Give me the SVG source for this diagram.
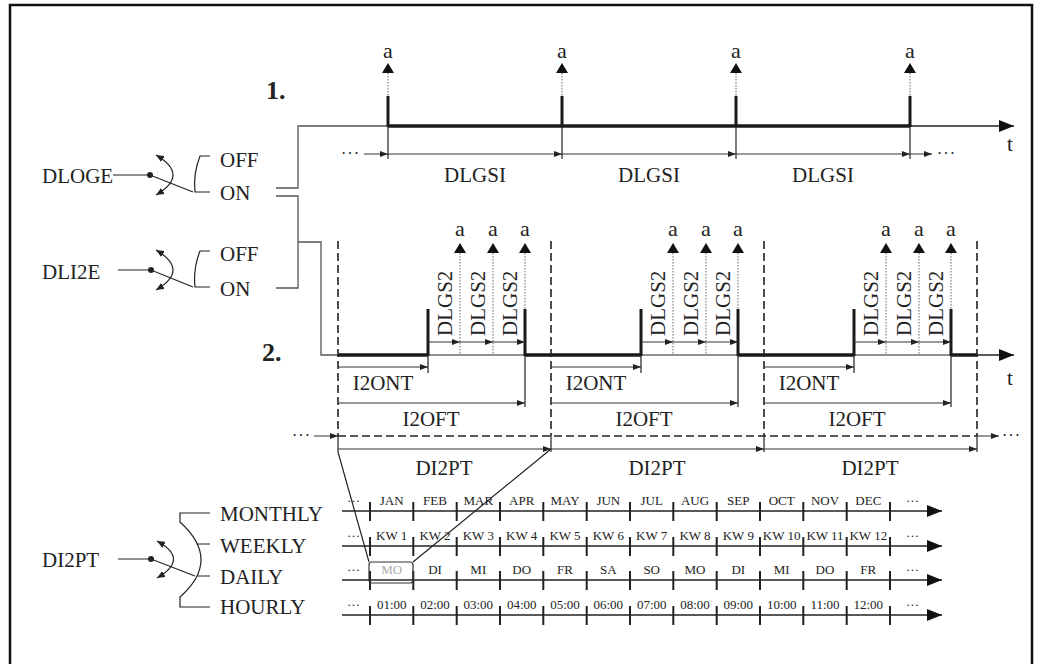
<svg xmlns="http://www.w3.org/2000/svg" xmlns:xlink="http://www.w3.org/1999/xlink" width="1037" height="664" viewBox="0 0 1037 664">
<defs>
<style>
text{font-family:"Liberation Serif","Times New Roman",serif;fill:#222}
.lbl{font-size:21px}
.mid{text-anchor:middle}
.small{font-size:13px;text-anchor:middle}
.dots{font-size:16px;letter-spacing:1px}
.sdots{font-size:13px}
.a{font-size:22px;text-anchor:middle}
.bold{font-weight:bold;font-size:26px}
.thin{stroke:#222;stroke-width:1.2;fill:none}
.thick{stroke:#1a1a1a;stroke-width:3.5;fill:none}
.tv{stroke:#1a1a1a;stroke-width:3;fill:none}
.conn{stroke:#555;stroke-width:1.3;fill:none}
.dash{stroke:#222;stroke-width:1.6;stroke-dasharray:8 4;fill:none}
.dot{stroke:#666;stroke-width:1;stroke-dasharray:1.5 1.5;fill:none}
.dim{stroke:#333;stroke-width:1;fill:none;marker-end:url(#ah)}
.axis{stroke:#222;stroke-width:1.4;fill:none;marker-end:url(#big)}
.tick{stroke:#222;stroke-width:2;fill:none}
</style>
<marker id="ah" markerUnits="userSpaceOnUse" markerWidth="8" markerHeight="6" refX="8" refY="3" orient="auto"><path d="M0,0 L8,3 L0,6 z" fill="#222"/></marker>
<marker id="big" markerUnits="userSpaceOnUse" markerWidth="15" markerHeight="12" refX="15" refY="6" orient="auto"><path d="M0,0 L15,6 L0,12 z" fill="#111"/></marker>
<marker id="sa" markerUnits="userSpaceOnUse" markerWidth="8" markerHeight="7" refX="8" refY="3.5" orient="auto-start-reverse"><path d="M0,0 L8,3.5 L0,7 z" fill="#222"/></marker>
<path id="tri" d="M0,0 L6,10 L-6,10 z" fill="#111"/>
<g id="rowbase">
<path class="axis" d="M342,0 H942"/>
<path class="tick" d="M370,-9 V10 M413.3,-9 V10 M456.7,-9 V10 M500,-9 V10 M543.3,-9 V10 M586.7,-9 V10 M630,-9 V10 M673.3,-9 V10 M716.7,-9 V10 M760,-9 V10 M803.3,-9 V10 M846.7,-9 V10 M890,-9 V10"/>
<text class="sdots" x="347" y="-6">···</text>
<text class="sdots" x="906" y="-6">···</text>
</g>
</defs>
<rect x="0" y="0" width="1037" height="664" fill="#fff"/>
<rect x="10" y="5" width="1022" height="680" fill="none" stroke="#111" stroke-width="2.5"/>

<text class="bold" x="266" y="99">1.</text>
<text class="bold" x="262" y="361">2.</text>

<g id="sw-dloge">
<text class="lbl" x="42" y="183">DLOGE</text>
<path class="thin" d="M113,175 H150 L193,192"/>
<circle cx="150" cy="175" r="3" fill="#222"/>
<path class="thin" d="M156,155 Q190,175 156,195" marker-start="url(#sa)" marker-end="url(#sa)"/>
<path class="thin" d="M210,156 H200 Q193,174 195,192 H210"/>
<text class="lbl" x="220" y="167">OFF</text>
<text class="lbl" x="220" y="200">ON</text>
</g>

<g id="sw-dli2e">
<text class="lbl" x="42" y="279">DLI2E</text>
<path class="thin" d="M118,270 H151 L193,287"/>
<circle cx="151" cy="270" r="3" fill="#222"/>
<path class="thin" d="M156,250 Q190,270 156,290" marker-start="url(#sa)" marker-end="url(#sa)"/>
<path class="thin" d="M210,251 H200 Q193,269 195,287 H210"/>
<text class="lbl" x="220" y="261">OFF</text>
<text class="lbl" x="220" y="296">ON</text>
</g>

<g id="sw-di2pt">
<text class="lbl" x="42" y="567">DI2PT</text>
<path class="thin" d="M118,559 H151 L195,576"/>
<circle cx="151" cy="559" r="3" fill="#222"/>
<path class="thin" d="M157,541 Q190,559 157,578" marker-start="url(#sa)" marker-end="url(#sa)"/>
<path class="thin" d="M210,513 H180 V522 Q222,560 180,597 V607 H210 M197.6,544 H210 M197,576 H210"/>
<text class="lbl" x="220" y="521">MONTHLY</text>
<text class="lbl" x="220" y="553">WEEKLY</text>
<text class="lbl" x="220" y="584">DAILY</text>
<text class="lbl" x="220" y="614">HOURLY</text>
</g>

<g id="connectors">
<path class="conn" d="M276,188 H298 V126 H388"/>
<path class="conn" d="M276,196 H298 V288 H276"/>
<path class="conn" d="M298,242 H321 V355 H338"/>
<path class="thin" d="M338,452 L369,562 M551,449 L413,562"/>
</g>

<g id="timeline1">
<path class="thick" d="M388,126 H910"/>
<path class="axis" d="M910,126 H1014"/>
<text class="lbl" x="1007" y="151">t</text>
<g id="t1-marks">
<path class="dot" d="M388,73 V96 M562,73 V96 M736,73 V96 M910,73 V96"/>
<path class="tv" d="M388,96 V127 M562,96 V127 M736,96 V127 M910,96 V127"/>
<path class="thin" d="M388,126 V159 M562,126 V159 M736,126 V159 M910,126 V159"/>
<use xlink:href="#tri" x="388" y="63"/>
<use xlink:href="#tri" x="562" y="63"/>
<use xlink:href="#tri" x="736" y="63"/>
<use xlink:href="#tri" x="910" y="63"/>
<text class="a" x="388" y="58">a</text>
<text class="a" x="562" y="58">a</text>
<text class="a" x="736" y="58">a</text>
<text class="a" x="910" y="58">a</text>
</g>
<text class="dots" x="341" y="159">···</text>
<path class="dim" d="M364,154 H388"/>
<path class="dim" d="M388,154 H562"/>
<path class="dim" d="M562,154 H736"/>
<path class="dim" d="M736,154 H910"/>
<path class="dim" d="M910,154 H932"/>
<text class="dots" x="937" y="159">···</text>
<text class="lbl mid" x="475" y="182">DLGSI</text>
<text class="lbl mid" x="649" y="182">DLGSI</text>
<text class="lbl mid" x="823" y="182">DLGSI</text>
</g>

<g id="timeline2">
<path class="thick" d="M338,355 H428 M525,355 H641 M738,355 H854 M951,355 H977"/>
<path class="thin" d="M428,355 H525 M641,355 H738 M854,355 H951"/>
<path class="axis" d="M977,355 H1014"/>
<text class="lbl" x="1007" y="385">t</text>
<path class="dash" d="M338,436 H977"/>
<text class="dots" x="292" y="441">···</text>
<path class="dim" d="M314,436 H338"/>
<path class="dim" d="M977,436 H999"/>
<text class="dots" x="1002" y="441">···</text>
<path class="dash" d="M977,241 V436"/>
<path class="thin" d="M977,436 V452"/>
</g>

<g id="cycle1">
<path class="dash" d="M338,241 V436"/>
<path class="thin" d="M338,436 V452"/>
<path class="tv" d="M428,309 V356 M525,309 V356"/>
<path class="thin" d="M428,355 V373 M525,355 V407"/>
<path class="dot" d="M460,253 V355 M493,253 V355 M525,253 V309"/>
<use xlink:href="#tri" x="460" y="243"/>
<use xlink:href="#tri" x="493" y="243"/>
<use xlink:href="#tri" x="525" y="243"/>
<text class="a" x="460" y="236">a</text>
<text class="a" x="493" y="236">a</text>
<text class="a" x="525" y="236">a</text>
<path class="dim" d="M428,342 H460"/>
<path class="dim" d="M460,342 H493"/>
<path class="dim" d="M493,342 H525"/>
<text class="lbl" transform="translate(452,336) rotate(-90)">DLGS2</text>
<text class="lbl" transform="translate(485,336) rotate(-90)">DLGS2</text>
<text class="lbl" transform="translate(517,336) rotate(-90)">DLGS2</text>
<path class="dim" d="M338,367 H428"/>
<text class="lbl mid" x="383" y="390">I2ONT</text>
<path class="dim" d="M338,403 H525"/>
<text class="lbl mid" x="431" y="426">I2OFT</text>
<path class="dim" d="M338,449 H551"/>
<text class="lbl mid" x="444" y="475">DI2PT</text>
</g>
<use id="cycle2" xlink:href="#cycle1" x="213"/>
<use id="cycle3" xlink:href="#cycle1" x="426"/>

<g id="calendar">
<use xlink:href="#rowbase" y="511"/>
<use xlink:href="#rowbase" y="546"/>
<use xlink:href="#rowbase" y="580"/>
<use xlink:href="#rowbase" y="615"/>
<rect x="369" y="562" width="44" height="21" rx="3" fill="none" stroke="#333" stroke-width="1.2"/>
<g id="row-month">
<text class="small" x="391.7" y="505">JAN</text><text class="small" x="435" y="505">FEB</text><text class="small" x="478.3" y="505">MAR</text><text class="small" x="521.7" y="505">APR</text><text class="small" x="565" y="505">MAY</text><text class="small" x="608.3" y="505">JUN</text><text class="small" x="651.7" y="505">JUL</text><text class="small" x="695" y="505">AUG</text><text class="small" x="738.3" y="505">SEP</text><text class="small" x="781.7" y="505">OCT</text><text class="small" x="825" y="505">NOV</text><text class="small" x="868.3" y="505">DEC</text>
</g>
<g id="row-week">
<text class="small" x="391.7" y="540">KW 1</text><text class="small" x="435" y="540">KW 2</text><text class="small" x="478.3" y="540">KW 3</text><text class="small" x="521.7" y="540">KW 4</text><text class="small" x="565" y="540">KW 5</text><text class="small" x="608.3" y="540">KW 6</text><text class="small" x="651.7" y="540">KW 7</text><text class="small" x="695" y="540">KW 8</text><text class="small" x="738.3" y="540">KW 9</text><text class="small" x="781.7" y="540">KW 10</text><text class="small" x="825" y="540">KW 11</text><text class="small" x="868.3" y="540">KW 12</text>
</g>
<g id="row-day">
<text class="small" x="391.7" y="574" style="fill:#aaa">MO</text><text class="small" x="435" y="574">DI</text><text class="small" x="478.3" y="574">MI</text><text class="small" x="521.7" y="574">DO</text><text class="small" x="565" y="574">FR</text><text class="small" x="608.3" y="574">SA</text><text class="small" x="651.7" y="574">SO</text><text class="small" x="695" y="574">MO</text><text class="small" x="738.3" y="574">DI</text><text class="small" x="781.7" y="574">MI</text><text class="small" x="825" y="574">DO</text><text class="small" x="868.3" y="574">FR</text>
</g>
<g id="row-hour">
<text class="small" x="391.7" y="609">01:00</text><text class="small" x="435" y="609">02:00</text><text class="small" x="478.3" y="609">03:00</text><text class="small" x="521.7" y="609">04:00</text><text class="small" x="565" y="609">05:00</text><text class="small" x="608.3" y="609">06:00</text><text class="small" x="651.7" y="609">07:00</text><text class="small" x="695" y="609">08:00</text><text class="small" x="738.3" y="609">09:00</text><text class="small" x="781.7" y="609">10:00</text><text class="small" x="825" y="609">11:00</text><text class="small" x="868.3" y="609">12:00</text>
</g>
</g>
</svg>
